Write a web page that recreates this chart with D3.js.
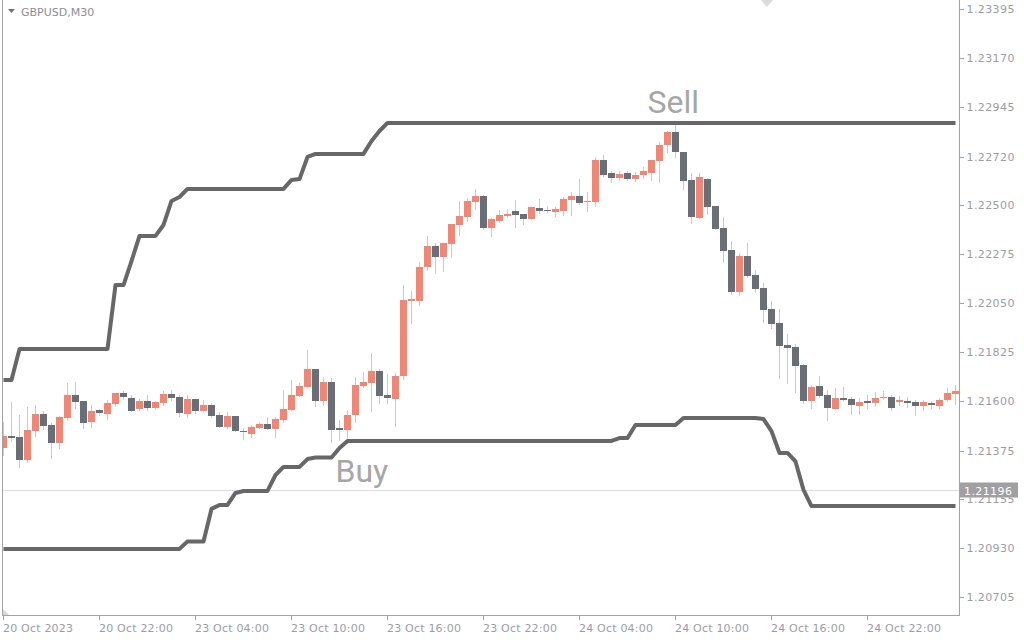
<!DOCTYPE html>
<html>
<head>
<meta charset="utf-8">
<script src="https://cdn.jsdelivr.net/npm/d3@7"></script>
<style>
  html, body { margin: 0; padding: 0; background: #ffffff; }
  svg { display: block; }
</style>
</head>
<body>
<svg id="chart" width="1024" height="640"></svg>
<script>
// ---------------- DATA ----------------
const symbolTitle = "GBPUSD,M30";

const xTickIndex = [0, 12, 24, 36, 48, 60, 72, 84, 96, 108];
const xTickLabels = ["20 Oct 2023", "20 Oct 22:00", "23 Oct 04:00", "23 Oct 10:00", "23 Oct 16:00",
  "23 Oct 22:00", "24 Oct 04:00", "24 Oct 10:00", "24 Oct 16:00", "24 Oct 22:00"];

const yTickLabels = ["1.23395", "1.23170", "1.22945", "1.22720", "1.22500", "1.22275", "1.22050",
  "1.21825", "1.21600", "1.21375", "1.21155", "1.20930", "1.20705"];

const currentPrice = 1.21196;

const opens = [
  1.21387,1.21441,1.21437,1.21332,1.21464,1.21542,1.21492,1.21410,1.21524,1.21629,
  1.21602,1.21506,1.21561,1.21542,1.21588,1.21638,1.21615,1.21565,1.21602,1.21570,
  1.21593,1.21634,1.21620,1.21542,1.21611,1.21556,1.21583,1.21538,1.21483,1.21533,
  1.21466,1.21451,1.21478,1.21496,1.21474,1.21515,1.21561,1.21625,1.21666,1.21748,
  1.21602,1.21689,1.21478,1.21469,1.21538,1.21670,1.21684,1.21739,1.21629,1.21611,
  1.21716,1.22061,1.22061,1.22215,1.22311,1.22260,1.22320,1.22407,1.22443,1.22512,
  1.22541,1.22393,1.22425,1.22448,1.22471,1.22457,1.22434,1.22485,1.22475,1.22466,
  1.22471,1.22521,1.22540,1.22512,1.22512,1.22704,1.22645,1.22622,1.22645,1.22617,
  1.22636,1.22645,1.22700,1.22773,1.22832,1.22741,1.22613,1.22439,1.22617,1.22494,
  1.22393,1.22292,1.22100,1.22265,1.22178,1.22119,1.22023,1.21959,1.21858,1.21849,
  1.21766,1.21602,1.21670,1.21629,1.21565,1.21615,1.21611,1.21579,1.21602,1.21593,
  1.21615,1.21620,1.21597,1.21602,1.21597,1.21579,1.21593,1.21579,1.21606,1.21634
];
const highs = [
  1.21506,1.21597,1.21538,1.21574,1.21583,1.21556,1.21501,1.21533,1.21684,1.21689,
  1.21602,1.21583,1.21565,1.21606,1.21638,1.21647,1.21629,1.21611,1.21629,1.21602,
  1.21647,1.21652,1.21629,1.21629,1.21611,1.21606,1.21593,1.21551,1.21551,1.21533,
  1.21477,1.21492,1.21506,1.21528,1.21528,1.21652,1.21698,1.21684,1.21835,1.21750,
  1.21712,1.21707,1.21515,1.21561,1.21712,1.21734,1.21821,1.21748,1.21725,1.21730,
  1.22132,1.22105,1.22239,1.22357,1.22326,1.22326,1.22412,1.22517,1.22529,1.22572,
  1.22542,1.22440,1.22475,1.22480,1.22521,1.22458,1.22490,1.22526,1.22494,1.22489,
  1.22535,1.22558,1.22617,1.22558,1.22718,1.22727,1.22654,1.22654,1.22654,1.22649,
  1.22672,1.22705,1.22787,1.22837,1.22864,1.22742,1.22645,1.22645,1.22622,1.22495,
  1.22443,1.22334,1.22279,1.22325,1.22201,1.22142,1.22059,1.22023,1.21908,1.21862,
  1.21771,1.21675,1.21716,1.21652,1.21661,1.21666,1.21620,1.21615,1.21629,1.21643,
  1.21647,1.21629,1.21625,1.21620,1.21606,1.21606,1.21602,1.21615,1.21661,1.21675
];
const lows = [
  1.21355,1.21419,1.21300,1.21323,1.21442,1.21474,1.21341,1.21387,1.21515,1.21570,
  1.21478,1.21483,1.21538,1.21519,1.21579,1.21611,1.21554,1.21561,1.21561,1.21565,
  1.21583,1.21606,1.21533,1.21528,1.21547,1.21554,1.21528,1.21482,1.21478,1.21463,
  1.21428,1.21437,1.21477,1.21472,1.21437,1.21506,1.21559,1.21623,1.21664,1.21579,
  1.21583,1.21414,1.21423,1.21428,1.21506,1.21666,1.21556,1.21593,1.21593,1.21487,
  1.21702,1.21960,1.22041,1.22201,1.22189,1.22198,1.22262,1.22361,1.22425,1.22480,
  1.22389,1.22357,1.22421,1.22443,1.22399,1.22413,1.22433,1.22462,1.22466,1.22448,
  1.22453,1.22453,1.22503,1.22471,1.22494,1.22631,1.22604,1.22613,1.22613,1.22608,
  1.22622,1.22613,1.22604,1.22741,1.22718,1.22572,1.22416,1.22438,1.22457,1.22388,
  1.22238,1.22091,1.22087,1.22169,1.22100,1.21963,1.21936,1.21707,1.21684,1.21643,
  1.21593,1.21570,1.21620,1.21515,1.21563,1.21606,1.21542,1.21542,1.21570,1.21579,
  1.21611,1.21561,1.21583,1.21574,1.21538,1.21561,1.21570,1.21570,1.21602,1.21588
];
const closes = [
  1.21442,1.21432,1.21332,1.21469,1.21542,1.21487,1.21410,1.21528,1.21629,1.21597,
  1.21501,1.21556,1.21545,1.21593,1.21638,1.21620,1.21556,1.21602,1.21570,1.21597,
  1.21634,1.21615,1.21547,1.21611,1.21556,1.21583,1.21533,1.21484,1.21533,1.21466,
  1.21458,1.21483,1.21496,1.21474,1.21519,1.21565,1.21629,1.21670,1.21748,1.21602,
  1.21689,1.21469,1.21469,1.21538,1.21675,1.21689,1.21739,1.21625,1.21615,1.21716,
  1.22064,1.22068,1.22215,1.22311,1.22260,1.22325,1.22411,1.22448,1.22517,1.22541,
  1.22393,1.22434,1.22453,1.22459,1.22453,1.22434,1.22489,1.22471,1.22471,1.22480,
  1.22526,1.22540,1.22508,1.22518,1.22704,1.22636,1.22622,1.22640,1.22617,1.22636,
  1.22654,1.22704,1.22773,1.22832,1.22741,1.22608,1.22443,1.22626,1.22489,1.22389,
  1.22288,1.22100,1.22265,1.22174,1.22114,1.22018,1.21954,1.21853,1.21844,1.21762,
  1.21602,1.21666,1.21625,1.21570,1.21615,1.21608,1.21583,1.21597,1.21593,1.21615,
  1.21620,1.21570,1.21606,1.21593,1.21579,1.21597,1.21583,1.21606,1.21638,1.21647
];

// upper (Sell) channel line, one value per bar
const upperBand = [
  1.21698,1.21698,1.21840,1.21840,1.21840,1.21840,1.21840,1.21840,1.21840,1.21840,
  1.21840,1.21840,1.21840,1.21840,1.22132,1.22132,1.22242,1.22357,1.22357,1.22357,
  1.22407,1.22517,1.22535,1.22572,1.22572,1.22572,1.22572,1.22572,1.22572,1.22572,
  1.22572,1.22572,1.22572,1.22572,1.22572,1.22572,1.22613,1.22617,1.22718,1.22732,
  1.22732,1.22732,1.22732,1.22732,1.22732,1.22732,1.22791,1.22837,1.22874,1.22874,
  1.22874,1.22874,1.22874,1.22874,1.22874,1.22874,1.22874,1.22874,1.22874,1.22874,
  1.22874,1.22874,1.22874,1.22874,1.22874,1.22874,1.22874,1.22874,1.22874,1.22874,
  1.22874,1.22874,1.22874,1.22874,1.22874,1.22874,1.22874,1.22874,1.22874,1.22874,
  1.22874,1.22874,1.22874,1.22874,1.22874,1.22874,1.22874,1.22874,1.22874,1.22874,
  1.22874,1.22874,1.22874,1.22874,1.22874,1.22874,1.22874,1.22874,1.22874,1.22874,
  1.22874,1.22874,1.22874,1.22874,1.22874,1.22874,1.22874,1.22874,1.22874,1.22874,
  1.22874,1.22874,1.22874,1.22874,1.22874,1.22874,1.22874,1.22874,1.22874,1.22874
];
// lower (Buy) channel line, one value per bar
const lowerBand = [
  1.20925,1.20925,1.20925,1.20925,1.20925,1.20925,1.20925,1.20925,1.20925,1.20925,
  1.20925,1.20925,1.20925,1.20925,1.20925,1.20925,1.20925,1.20925,1.20925,1.20925,
  1.20925,1.20925,1.20925,1.20959,1.20959,1.20959,1.21108,1.21126,1.21126,1.21181,
  1.21190,1.21190,1.21190,1.21190,1.21263,1.21300,1.21300,1.21300,1.21336,1.21343,
  1.21343,1.21343,1.21387,1.21419,1.21419,1.21419,1.21419,1.21419,1.21419,1.21419,
  1.21419,1.21419,1.21419,1.21419,1.21419,1.21419,1.21419,1.21419,1.21419,1.21419,
  1.21419,1.21419,1.21419,1.21419,1.21419,1.21419,1.21419,1.21419,1.21419,1.21419,
  1.21419,1.21419,1.21419,1.21419,1.21419,1.21419,1.21419,1.21432,1.21432,1.21492,
  1.21492,1.21492,1.21492,1.21492,1.21492,1.21524,1.21524,1.21524,1.21524,1.21524,
  1.21524,1.21524,1.21524,1.21524,1.21524,1.21519,1.21464,1.21364,1.21364,1.21325,
  1.21195,1.21121,1.21121,1.21121,1.21121,1.21121,1.21121,1.21121,1.21121,1.21121,
  1.21121,1.21121,1.21121,1.21121,1.21121,1.21121,1.21121,1.21121,1.21121,1.21121
];

const signalLabels = ["Sell", "Buy"];
const signalBars = [80.5, 41.5];
const signalPrices = [1.22919, 1.21231];

// ---------------- LAYOUT ----------------
const plotLeft = 3, plotRight = 959, plotTop = 0, plotBottom = 615;

const svg = d3.select("#chart");
svg.append("rect").attr("width", 1024).attr("height", 640).attr("fill", "#ffffff");

const x = d3.scaleLinear().domain([0, opens.length - 1]).range([3.5, 3.5 + 8 * (opens.length - 1)]);
const y = d3.scaleLinear().domain([1.206226, 1.234362]).range([615, 0]);

svg.append("defs").append("clipPath").attr("id", "plotClip")
  .append("rect").attr("x", plotLeft).attr("y", plotTop)
  .attr("width", plotRight - plotLeft).attr("height", plotBottom - plotTop);

const plot = svg.append("g").attr("clip-path", "url(#plotClip)");

// current price line
const cpY = Math.round(y(currentPrice)) + 0.5;
plot.append("line").attr("x1", plotLeft).attr("x2", plotRight)
  .attr("y1", cpY).attr("y2", cpY)
  .attr("stroke", "#dcdce2").attr("stroke-width", 1);

const idx = d3.range(opens.length);

// wicks
plot.append("g").selectAll("line").data(idx).join("line")
  .attr("x1", i => Math.floor(x(i)) + 0.5)
  .attr("x2", i => Math.floor(x(i)) + 0.5)
  .attr("y1", i => Math.round(y(highs[i])))
  .attr("y2", i => Math.round(y(lows[i])) + 1)
  .attr("stroke", "#c9c9d2").attr("stroke-width", 1)
  .attr("shape-rendering", "crispEdges");

// bodies
plot.append("g").selectAll("rect").data(idx).join("rect")
  .attr("x", i => x(i) - 3.5)
  .attr("width", 7)
  .attr("y", i => Math.round(y(Math.max(opens[i], closes[i]))))
  .attr("height", i => Math.max(1, Math.round(y(Math.min(opens[i], closes[i]))) - Math.round(y(Math.max(opens[i], closes[i])))))
  .attr("fill", i => closes[i] >= opens[i] ? "#ef8676" : "#6a6e76")
  .attr("shape-rendering", "crispEdges");

// channel lines
const line = d3.line().x((d, i) => x(i)).y(d => y(d));
[upperBand, lowerBand].forEach(band => {
  plot.append("path").datum(band)
    .attr("d", line)
    .attr("fill", "none")
    .attr("stroke", "#676767")
    .attr("stroke-width", 4)
    .attr("stroke-linejoin", "round");
});

// Sell / Buy labels
svg.append("g").selectAll("text").data(signalLabels).join("text")
  .attr("x", (d, i) => x(signalBars[i]))
  .attr("y", (d, i) => y(signalPrices[i]))
  .attr("font-family", "Roboto, 'Noto Sans', sans-serif")
  .attr("font-size", 32)
  .attr("fill", "#a6a6a6")
  .text(d => d);

// frame
const frame = svg.append("g").attr("stroke", "#a3a3a3").attr("stroke-width", 1).attr("shape-rendering", "crispEdges");
frame.append("line").attr("x1", 2.5).attr("x2", 2.5).attr("y1", 0).attr("y2", 615.5);
frame.append("line").attr("x1", 2).attr("x2", 960).attr("y1", 615.5).attr("y2", 615.5);
frame.append("line").attr("x1", 959.5).attr("x2", 959.5).attr("y1", 0).attr("y2", 616);

// chart-shift marker at top and corner mark
svg.append("path").attr("d", "M761,0 L773,0 L767,7 Z").attr("fill", "#dcdcdc");
svg.append("path").attr("d", "M3,609 L3,615 L9,615 Z").attr("fill", "#d6d6de");

// y axis
const yAxis = d3.axisRight(y)
  .tickValues(yTickLabels.map(Number))
  .tickFormat((d, i) => yTickLabels[i])
  .tickSize(4).tickPadding(3);
const gy = svg.append("g").attr("transform", "translate(959.5,0)").call(yAxis);
gy.select(".domain").remove();
gy.selectAll(".tick line").attr("stroke", "#a3a3a3").attr("shape-rendering", "crispEdges");
gy.selectAll(".tick text")
  .attr("fill", "#9c9ca6")
  .attr("font-family", "'DejaVu Sans', Verdana, sans-serif")
  .attr("font-size", 11)
  .attr("letter-spacing", "0.4px");

// x axis
const xAxis = d3.axisBottom(x)
  .tickValues(xTickIndex)
  .tickFormat((d, i) => xTickLabels[i])
  .tickSize(4).tickPadding(5).offset(0);
const gx = svg.append("g").attr("transform", "translate(0,615.5)").call(xAxis);
gx.select(".domain").remove();
gx.selectAll(".tick line").attr("stroke", "#a3a3a3").attr("shape-rendering", "crispEdges");
gx.selectAll(".tick text")
  .attr("text-anchor", "start")
  .attr("x", -0.5)
  .attr("fill", "#9c9ca6")
  .attr("font-family", "'DejaVu Sans', Verdana, sans-serif")
  .attr("font-size", 11)
  .attr("letter-spacing", "0.2px");

// current price label box
svg.append("rect").attr("x", 960).attr("y", cpY - 8).attr("width", 58).attr("height", 15)
  .attr("fill", "#a0a0a3");
svg.append("text").attr("x", 964).attr("y", cpY + 4)
  .attr("fill", "#ffffff")
  .attr("font-family", "'DejaVu Sans', Verdana, sans-serif")
  .attr("font-size", 11)
  .attr("letter-spacing", "0.4px")
  .text(currentPrice.toFixed(5));

// title
svg.append("path").attr("d", "M8,9 L15,9 L11.5,13 Z").attr("fill", "#6f6f78");
svg.append("text").attr("x", 21).attr("y", 16)
  .attr("fill", "#8e8e96")
  .attr("font-family", "'DejaVu Sans', Verdana, sans-serif")
  .attr("font-size", 11)
  .text(symbolTitle);
</script>
</body>
</html>
